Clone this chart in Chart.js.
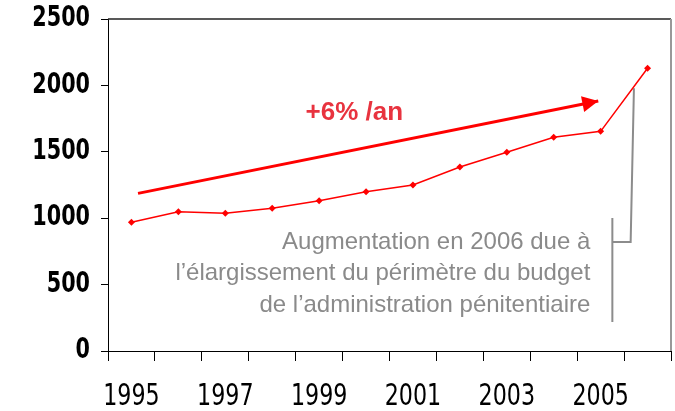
<!DOCTYPE html>
<html><head><meta charset="utf-8">
<script src="https://cdn.jsdelivr.net/npm/chart.js@4/dist/chart.umd.min.js"></script>
<style>html,body{margin:0;padding:0;background:#fff}#wrap{width:675px;height:411px}</style>
</head><body><div id="wrap"><canvas id="c" width="675" height="411"></canvas></div>
<script>
// ---- data ----
const years = ['1995','1996','1997','1998','1999','2000','2001','2002','2003','2004','2005','2006'];
const budget = [969, 1049, 1037, 1075, 1132, 1200, 1250, 1386, 1496, 1609, 1654, 2129];
const yTickStep = 500;
const yMin = 0;
const yMax = 2500;
// trend arrow (x in category-index units, y in value units)
const trendX = [0.14, 9.95];
const trendY = [1187, 1882];
const trendLabel = '+6% /an';
const trendLabelPos = [4.75, 1792];
// bracket annotation
const bracketBarX = [10.25, 10.25];
const bracketBarY = [1001, 218];
const bracketLeadX = [10.25, 10.64, 10.71];
const bracketLeadY = [821, 821, 1978];
const noteLines = ['Augmentation en 2006 due à', 'l\u2019élargissement du périmètre du budget', 'de l\u2019administration pénitentiaire'];
const noteX = 9.78;
const noteY = [821, 587, 346];

const axisFont = '"DejaVu Sans", Verdana, sans-serif';
const arial = '"Liberation Sans", Arial, sans-serif';

const toPts = (xs, ys) => xs.map((x, i) => ({x: x, y: ys[i]}));

// narrow (condensed) rendering of axis tick labels
const canvas = document.getElementById('c');
const c2d = canvas.getContext('2d');
c2d.rotate = function (r) {
  CanvasRenderingContext2D.prototype.rotate.call(this, r);
  if (this.__condense) CanvasRenderingContext2D.prototype.scale.call(this, this.__condense, 1);
};

const condense = {
  id: 'condense',
  beforeDraw(chart) { chart.ctx.__condense = 0.74; },
  beforeDatasetsDraw(chart) { chart.ctx.__condense = 0; }
};

const decor = {
  id: 'decor',
  afterDatasetsDraw(chart) {
    const ctx = chart.ctx, a = chart.chartArea;
    const sx = chart.scales.x2, sy = chart.scales.y;
    ctx.save();
    // frame top and right
    ctx.strokeStyle = '#222'; ctx.lineWidth = 1.5;
    ctx.beginPath(); ctx.moveTo(a.left, a.top); ctx.lineTo(a.right, a.top); ctx.stroke();
    ctx.strokeStyle = '#999'; ctx.lineWidth = 2;
    ctx.beginPath(); ctx.moveTo(a.right, a.top); ctx.lineTo(a.right, a.bottom); ctx.stroke();
    // arrow head
    const x0 = sx.getPixelForValue(trendX[0]), y0 = sy.getPixelForValue(trendY[0]);
    const x1 = sx.getPixelForValue(trendX[1]), y1 = sy.getPixelForValue(trendY[1]);
    const ang = Math.atan2(y1 - y0, x1 - x0);
    const L = 16, W = 8;
    ctx.fillStyle = '#ff0000';
    ctx.beginPath();
    ctx.moveTo(x1, y1);
    ctx.lineTo(x1 - L * Math.cos(ang) + W * Math.sin(ang), y1 - L * Math.sin(ang) - W * Math.cos(ang));
    ctx.lineTo(x1 - L * Math.cos(ang) - W * Math.sin(ang), y1 - L * Math.sin(ang) + W * Math.cos(ang));
    ctx.closePath(); ctx.fill();
    // trend label
    ctx.fillStyle = '#e8333f';
    ctx.font = 'bold 26px ' + arial;
    ctx.textAlign = 'center'; ctx.textBaseline = 'middle';
    ctx.fillText(trendLabel, sx.getPixelForValue(trendLabelPos[0]), sy.getPixelForValue(trendLabelPos[1]));
    // note
    ctx.fillStyle = '#8a8a8a';
    ctx.font = '24px ' + arial;
    ctx.textAlign = 'right';
    noteLines.forEach((t, i) => ctx.fillText(t, sx.getPixelForValue(noteX), sy.getPixelForValue(noteY[i])));
    ctx.restore();
  }
};

new Chart(canvas, {
  type: 'line',
  data: {
    labels: years,
    datasets: [
      {data: budget, xAxisID: 'x', borderColor: '#ff0000', borderWidth: 1.5,
       pointStyle: 'rectRot', pointRadius: 3.5, pointBackgroundColor: '#ff0000',
       pointBorderColor: '#ff0000', pointBorderWidth: 0, tension: 0},
      {data: toPts(trendX, trendY), xAxisID: 'x2', borderColor: '#ff0000', borderWidth: 3,
       pointRadius: 0, tension: 0},
      {data: toPts(bracketBarX, bracketBarY), xAxisID: 'x2', borderColor: '#8c8c8c', borderWidth: 2,
       pointRadius: 0, tension: 0},
      {data: toPts(bracketLeadX, bracketLeadY), xAxisID: 'x2', borderColor: '#8c8c8c', borderWidth: 2,
       pointRadius: 0, tension: 0}
    ]
  },
  options: {
    responsive: false, animation: false, events: [],
    layout: {padding: {top: 19, right: 2, left: 0, bottom: 0}},
    plugins: {legend: {display: false}, tooltip: {enabled: false}},
    scales: {
      x: {
        type: 'category', offset: true,
        grid: {offset: true, drawOnChartArea: false, tickLength: 10, color: '#000', lineWidth: 1},
        border: {color: '#000', width: 1},
        ticks: {autoSkip: false, maxRotation: 0, minRotation: 0, padding: 18, color: '#000',
                font: {family: axisFont, size: 30},
                callback: (v, i) => (i % 2 === 0 ? years[i] : '')},
        afterFit: s => { s.height = 60; s.paddingLeft = 0; s.paddingRight = 0; }
      },
      x2: {type: 'linear', display: false, min: -0.5, max: 11.5},
      y: {
        min: yMin, max: yMax,
        grid: {drawOnChartArea: false, tickLength: 7, color: '#000', lineWidth: 1},
        border: {color: '#000', width: 1},
        ticks: {stepSize: yTickStep, padding: 11, color: '#000',
                font: {family: axisFont, size: 28, weight: 'bold'},
                callback: v => String(v)},
        afterFit: s => { s.width = 108; s.paddingTop = 0; s.paddingBottom = 0; }
      }
    }
  },
  plugins: [condense, decor]
});
</script></body></html>
